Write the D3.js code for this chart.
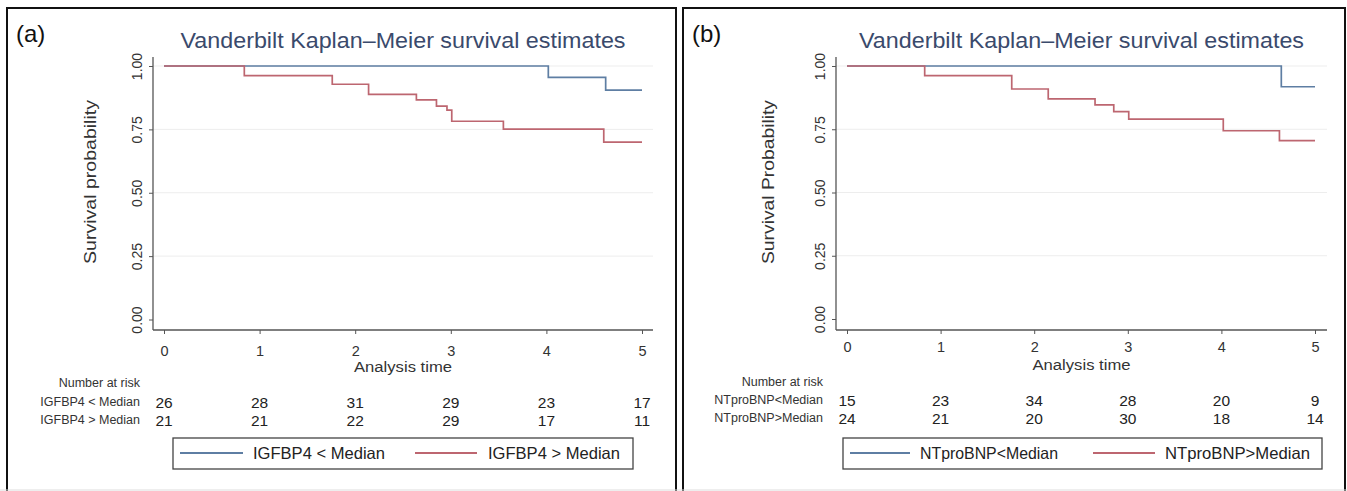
<!DOCTYPE html>
<html>
<head>
<meta charset="utf-8">
<script src="https://cdn.jsdelivr.net/npm/d3@7"></script>
<style>
  body { margin: 0; background: #fff; }
  svg { display: block; font-family: "Liberation Sans", Arial, sans-serif; }
</style>
</head>
<body>
<div id="chart"></div>
<script>
// ---- data ----
const yTicks = [0, 0.25, 0.5, 0.75, 1];
const xTicks = [0, 1, 2, 3, 4, 5];
const riskTimes = [0, 1, 2, 3, 4, 5];

// panel (a): IGFBP4
const aLowTime = [0, 4.02, 4.62, 5];
const aLowSurv = [1, 0.955, 0.905, 0.905];
const aHighTime = [0, 0.84, 1.76, 2.14, 2.64, 2.85, 2.96, 3.01, 3.55, 4.60, 5];
const aHighSurv = [1, 0.962, 0.928, 0.888, 0.866, 0.842, 0.826, 0.782, 0.751, 0.700, 0.700];
const aRiskLow = [26, 28, 31, 29, 23, 17];
const aRiskHigh = [21, 21, 22, 29, 17, 11];
const aLabels = ["IGFBP4 < Median", "IGFBP4 > Median"];

// panel (b): NTproBNP
const bLowTime = [0, 4.64, 5];
const bLowSurv = [1, 0.918, 0.918];
const bHighTime = [0, 0.83, 1.76, 2.15, 2.65, 2.85, 3.01, 4.02, 4.62, 5];
const bHighSurv = [1, 0.962, 0.909, 0.870, 0.846, 0.820, 0.790, 0.744, 0.705, 0.705];
const bRiskLow = [15, 23, 34, 28, 20, 9];
const bRiskHigh = [24, 21, 20, 30, 18, 14];
const bLabels = ["NTproBNP<Median", "NTproBNP>Median"];

const titleText = "Vanderbilt Kaplan\u2013Meier survival estimates";
const blue = "#5e7ea3";
const red = "#bd6670";

const svg = d3.select("#chart").append("svg")
    .attr("width", 1347)
    .attr("height", 491);

svg.append("rect").attr("width", 1347).attr("height", 491).attr("fill", "#fff");

function drawPanel(p) {
    const g = svg.append("g");

    // frame
    g.append("rect")
        .attr("x", p.box[0]).attr("y", 8)
        .attr("width", p.box[1] - p.box[0]).attr("height", 490)
        .attr("fill", "none").attr("stroke", "#111").attr("stroke-width", 2);

    g.append("text")
        .attr("x", p.box[0] + 9).attr("y", 42)
        .style("font-size", "24px").attr("fill", "#111")
        .text(p.tag);

    const x = d3.scaleLinear().domain([0, 5]).range(p.xr);
    const y = d3.scaleLinear().domain([0, 1]).range([p.y0, 66]);

    // grid
    g.selectAll(".grid").data(yTicks.slice(1))
        .enter().append("line")
        .attr("x1", p.axX).attr("x2", p.axEnd)
        .attr("y1", d => y(d)).attr("y2", d => y(d))
        .attr("stroke", "#ededed").attr("stroke-width", 1);

    // title
    g.append("text")
        .attr("x", (p.axX + p.axEnd) / 2).attr("y", 48)
        .attr("text-anchor", "middle")
        .attr("textLength", 445).attr("lengthAdjust", "spacingAndGlyphs")
        .style("font-size", "22px").attr("fill", "#3a4a6c")
        .text(titleText);

    // y axis
    const yAxis = g.append("g")
        .attr("transform", `translate(${p.axX},0)`)
        .call(d3.axisLeft(y).tickValues(yTicks).tickFormat(d3.format(".2f")).tickSize(4).tickSizeOuter(0));
    yAxis.select(".domain").remove();
    yAxis.selectAll("line").attr("stroke", "#555");
    yAxis.selectAll("text")
        .attr("transform", "rotate(-90)")
        .attr("x", 0).attr("y", -11).attr("dy", 0)
        .attr("text-anchor", "middle")
        .style("font-size", "14px").attr("fill", "#333");
    g.append("line")
        .attr("x1", p.axX).attr("x2", p.axX).attr("y1", 57).attr("y2", 330)
        .attr("stroke", "#555").attr("stroke-width", 1.3);

    g.append("text")
        .attr("transform", `translate(${p.yTitleX},182) rotate(-90)`)
        .attr("text-anchor", "middle")
        .attr("textLength", 164).attr("lengthAdjust", "spacingAndGlyphs")
        .style("font-size", "17px").attr("fill", "#333")
        .text(p.yTitle);

    // x axis
    const xAxis = g.append("g")
        .attr("transform", "translate(0,330)")
        .call(d3.axisBottom(x).tickValues(xTicks).tickFormat(d3.format("d")).tickSize(4).tickSizeOuter(0));
    xAxis.select(".domain").remove();
    xAxis.selectAll("line").attr("stroke", "#555");
    xAxis.selectAll("text")
        .attr("y", p.tickDy).attr("dy", "0.71em")
        .style("font-size", "14.5px").attr("fill", "#333");
    g.append("line")
        .attr("x1", p.axX).attr("x2", p.axEnd).attr("y1", 330).attr("y2", 330)
        .attr("stroke", "#555").attr("stroke-width", 1.3);

    g.append("text")
        .attr("x", (p.axX + p.axEnd) / 2).attr("y", p.xTitleY)
        .attr("text-anchor", "middle")
        .attr("textLength", 98).attr("lengthAdjust", "spacingAndGlyphs")
        .style("font-size", "15.5px").attr("fill", "#333")
        .text("Analysis time");

    // curves
    const line = d3.line()
        .x(d => x(d[0])).y(d => y(d[1]))
        .curve(d3.curveStepAfter);
    [[p.lowT, p.lowS, blue], [p.highT, p.highS, red]].forEach(s => {
        g.append("path")
            .datum(d3.zip(s[0], s[1]))
            .attr("d", line)
            .attr("fill", "none")
            .attr("stroke", s[2])
            .attr("stroke-width", 1.7);
    });

    // number at risk
    g.append("text")
        .attr("x", p.riskX).attr("y", p.riskY[0])
        .attr("text-anchor", "end")
        .style("font-size", "12.5px").attr("fill", "#333")
        .text("Number at risk");
    [p.riskLow, p.riskHigh].forEach((row, i) => {
        g.append("text")
            .attr("x", p.riskX).attr("y", p.riskY[i + 1])
            .attr("text-anchor", "end")
            .style("font-size", "12.5px").attr("fill", "#333")
            .text(p.labels[i]);
        g.selectAll(".risk" + i).data(row)
            .enter().append("text")
            .attr("x", (d, j) => x(riskTimes[j]))
            .attr("y", p.riskY[i + 1] + 2)
            .attr("text-anchor", "middle")
            .style("font-size", "15.5px").attr("fill", "#222")
            .text(d => d);
    });

    // legend
    g.append("rect")
        .attr("x", p.leg[0]).attr("y", 438)
        .attr("width", p.leg[1] - p.leg[0]).attr("height", 31)
        .attr("fill", "#fff").attr("stroke", "#444").attr("stroke-width", 1.3);
    p.legItems.forEach((it, i) => {
        g.append("line")
            .attr("x1", it[0]).attr("x2", it[1]).attr("y1", 453).attr("y2", 453)
            .attr("stroke", i === 0 ? blue : red).attr("stroke-width", 2);
        g.append("text")
            .attr("x", it[2]).attr("y", 459)
            .attr("textLength", it[3]).attr("lengthAdjust", "spacingAndGlyphs")
            .style("font-size", "16.5px").attr("fill", "#222")
            .text(p.labels[i]);
    });
}

drawPanel({
    tag: "(a)", box: [7, 676], xr: [164, 642], y0: 319.5, axX: 153, axEnd: 653,
    yTitle: "Survival probability", yTitleX: 96, tickDy: 16, xTitleY: 372,
    lowT: aLowTime, lowS: aLowSurv, highT: aHighTime, highS: aHighSurv,
    riskLow: aRiskLow, riskHigh: aRiskHigh, labels: aLabels,
    riskX: 140, riskY: [387, 406, 424],
    leg: [173, 633], legItems: [[180, 243, 253, 132], [415, 477, 488, 132]]
});

drawPanel({
    tag: "(b)", box: [683, 1345], xr: [847, 1315], y0: 319, axX: 836, axEnd: 1327,
    yTitle: "Survival Probability", yTitleX: 774, tickDy: 12, xTitleY: 370,
    lowT: bLowTime, lowS: bLowSurv, highT: bHighTime, highS: bHighSurv,
    riskLow: bRiskLow, riskHigh: bRiskHigh, labels: bLabels,
    riskX: 823, riskY: [386, 404, 422],
    leg: [843, 1322], legItems: [[850, 910, 920, 138], [1093, 1155, 1165, 145]]
});

// faint bottom edge of the scanned panels
svg.append("line")
    .attr("x1", 0).attr("x2", 1347).attr("y1", 490).attr("y2", 490)
    .attr("stroke", "#ddd");
</script>
</body>
</html>
